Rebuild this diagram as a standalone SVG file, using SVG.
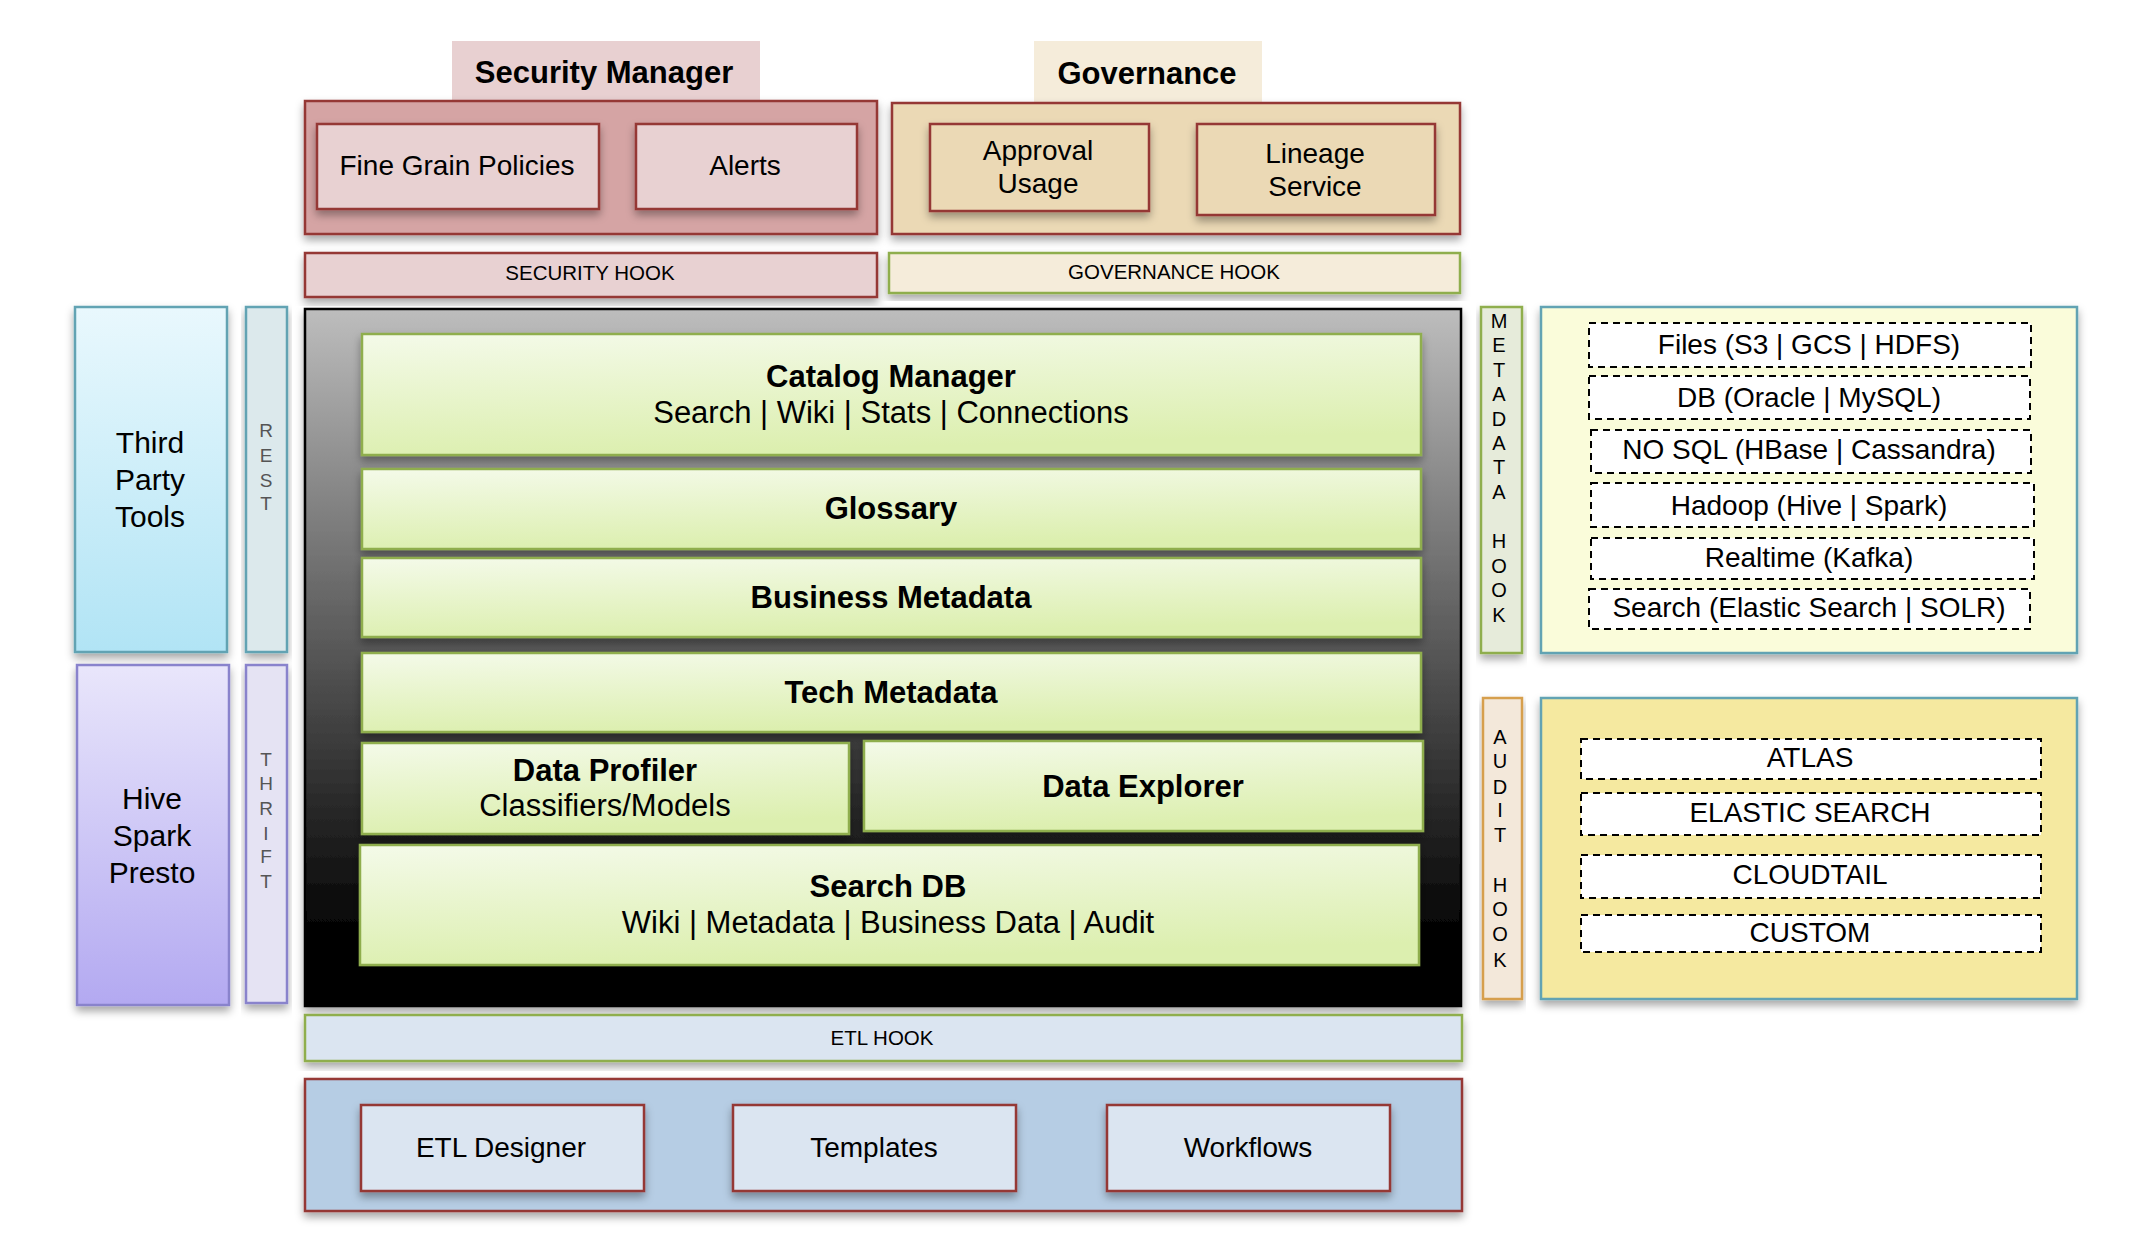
<svg xmlns="http://www.w3.org/2000/svg" width="2134" height="1252" viewBox="0 0 2134 1252">
<defs>
  <filter id="sh" x="-10%" y="-10%" width="120%" height="130%">
    <feDropShadow dx="0" dy="5" stdDeviation="4" flood-color="#000" flood-opacity="0.35"/>
  </filter>
  <linearGradient id="gMain" x1="0" y1="0" x2="0" y2="1">
    <stop offset="0" stop-color="#bdbdbd"/>
    <stop offset="0.88" stop-color="#060606"/>
    <stop offset="1" stop-color="#000"/>
  </linearGradient>
  <linearGradient id="gGreen" x1="0" y1="0" x2="0.25" y2="1">
    <stop offset="0" stop-color="#f4fae9"/>
    <stop offset="1" stop-color="#dcefaf"/>
  </linearGradient>
  <linearGradient id="gBlue" x1="0" y1="0" x2="0" y2="1">
    <stop offset="0" stop-color="#e9f8fd"/>
    <stop offset="1" stop-color="#b1e4f5"/>
  </linearGradient>
  <linearGradient id="gPurple" x1="0" y1="0" x2="0" y2="1">
    <stop offset="0" stop-color="#e9e6fb"/>
    <stop offset="1" stop-color="#b3a9f1"/>
  </linearGradient>
</defs>
<style>
  text { font-family: "Liberation Sans", Arial, sans-serif; fill: #000; text-anchor: middle; }
  .b { font-weight: bold; }
  .f30 { font-size: 30px; }
  .f31 { font-size: 31px; }
  .f27 { font-size: 28px; }
  .f20 { font-size: 20.5px; }
  .v { font-size: 20px; }
  .vg { font-size: 19px; fill: #555; }
  .red { stroke: #953735; stroke-width: 2.5; }
  .grn { stroke: #8fae4e; stroke-width: 2.5; }
  .teal { stroke: #62a3b3; stroke-width: 2.5; }
  .pur { stroke: #8983cc; stroke-width: 2.5; }
  .dash { fill: #fff; stroke: #000; stroke-width: 2; stroke-dasharray: 7 5; }
  .shd { filter: url(#sh); }
</style>
<rect width="2134" height="1252" fill="#fff"/>

<g id="security-manager">
  <rect x="452" y="41" width="308" height="61" fill="#e8d0d1"/>
  <text class="b f31" x="604" y="83">Security Manager</text>
  <rect class="red shd" x="305" y="101" width="572" height="133" fill="#d5a4a4"/>
  <g id="fine-grain-policies">
    <rect class="red shd" x="317" y="124" width="282" height="85" fill="#e8d1d2"/>
    <text class="f27" x="457" y="175">Fine Grain Policies</text>
  </g>
  <g id="alerts">
    <rect class="red shd" x="636" y="124" width="221" height="85" fill="#e8d1d2"/>
    <text class="f27" x="745" y="175">Alerts</text>
  </g>
</g>

<g id="governance">
  <rect x="1034" y="41" width="228" height="61" fill="#f5ecda"/>
  <text class="b f31" x="1147" y="84">Governance</text>
  <rect class="red shd" x="892" y="103" width="568" height="131" fill="#ebd9b5"/>
  <g id="approval-usage">
    <rect class="red shd" x="930" y="124" width="219" height="87" fill="#ebd9b5"/>
    <text class="f27" x="1038" y="160">Approval</text>
    <text class="f27" x="1038" y="193">Usage</text>
  </g>
  <g id="lineage-service">
    <rect class="red shd" x="1197" y="124" width="238" height="91" fill="#ebd9b5"/>
    <text class="f27" x="1315" y="163">Lineage</text>
    <text class="f27" x="1315" y="196">Service</text>
  </g>
</g>

<g id="security-hook">
  <rect class="red shd" x="305" y="253" width="572" height="44" fill="#e8d1d2"/>
  <text class="f20" x="590" y="280">SECURITY HOOK</text>
</g>
<g id="governance-hook">
  <rect class="grn shd" x="889" y="253" width="571" height="40" fill="#f5ecda"/>
  <text class="f20" x="1174" y="279">GOVERNANCE HOOK</text>
</g>

<g id="third-party-tools">
  <rect class="teal shd" x="75" y="307" width="152" height="345" fill="url(#gBlue)"/>
  <text class="f30" x="150" y="453">Third</text>
  <text class="f30" x="150" y="490">Party</text>
  <text class="f30" x="150" y="527">Tools</text>
</g>
<g id="rest">
  <rect class="teal shd" x="246" y="307" width="41" height="345" fill="#dce9ec"/>
  <text class="vg" x="266" y="437">R</text>
  <text class="vg" x="266" y="462">E</text>
  <text class="vg" x="266" y="487">S</text>
  <text class="vg" x="266" y="510">T</text>
</g>
<g id="hive-spark-presto">
  <rect class="pur shd" x="77" y="665" width="152" height="340" fill="url(#gPurple)"/>
  <text class="f30" x="152" y="809">Hive</text>
  <text class="f30" x="152" y="846">Spark</text>
  <text class="f30" x="152" y="883">Presto</text>
</g>
<g id="thrift">
  <rect class="pur shd" x="246" y="665" width="41" height="338" fill="#e5e3f3"/>
  <text class="vg" x="266" y="766">T</text>
  <text class="vg" x="266" y="790">H</text>
  <text class="vg" x="266" y="815">R</text>
  <text class="vg" x="266" y="840">I</text>
  <text class="vg" x="266" y="863">F</text>
  <text class="vg" x="266" y="888">T</text>
</g>

<g id="core">
  <rect class="shd" x="305" y="309" width="1156" height="697" fill="url(#gMain)" stroke="#000" stroke-width="2.5"/>
  <g id="catalog-manager">
    <rect class="grn shd" x="362" y="334" width="1059" height="121" fill="url(#gGreen)"/>
    <text class="b f31" x="891" y="387">Catalog Manager</text>
    <text class="f31" x="891" y="423">Search | Wiki | Stats | Connections</text>
  </g>
  <g id="glossary">
    <rect class="grn shd" x="362" y="469" width="1059" height="80" fill="url(#gGreen)"/>
    <text class="b f31" x="891" y="519">Glossary</text>
  </g>
  <g id="business-metadata">
    <rect class="grn shd" x="362" y="558" width="1059" height="79" fill="url(#gGreen)"/>
    <text class="b f31" x="891" y="608">Business Metadata</text>
  </g>
  <g id="tech-metadata">
    <rect class="grn shd" x="362" y="653" width="1059" height="79" fill="url(#gGreen)"/>
    <text class="b f31" x="891" y="703">Tech Metadata</text>
  </g>
  <g id="data-profiler">
    <rect class="grn shd" x="362" y="743" width="487" height="91" fill="url(#gGreen)"/>
    <text class="b f31" x="605" y="781">Data Profiler</text>
    <text class="f31" x="605" y="816">Classifiers/Models</text>
  </g>
  <g id="data-explorer">
    <rect class="grn shd" x="864" y="741" width="559" height="90" fill="url(#gGreen)"/>
    <text class="b f31" x="1143" y="797">Data Explorer</text>
  </g>
  <g id="search-db">
    <rect class="grn shd" x="360" y="845" width="1059" height="120" fill="url(#gGreen)"/>
    <text class="b f31" x="888" y="897">Search DB</text>
    <text class="f31" x="888" y="933">Wiki | Metadata | Business Data | Audit</text>
  </g>
</g>

<g id="metadata-hook">
  <rect class="grn shd" x="1481" y="307" width="41" height="346" fill="#e6ebda"/>
  <text class="v" x="1499" y="328">M</text>
  <text class="v" x="1499" y="352">E</text>
  <text class="v" x="1499" y="377">T</text>
  <text class="v" x="1499" y="401">A</text>
  <text class="v" x="1499" y="426">D</text>
  <text class="v" x="1499" y="450">A</text>
  <text class="v" x="1499" y="474">T</text>
  <text class="v" x="1499" y="499">A</text>
  <text class="v" x="1499" y="548">H</text>
  <text class="v" x="1499" y="573">O</text>
  <text class="v" x="1499" y="597">O</text>
  <text class="v" x="1499" y="622">K</text>
</g>
<g id="metadata-sources">
  <rect class="teal shd" x="1541" y="307" width="536" height="346" fill="#fafcda"/>
  <rect class="dash" x="1589" y="323" width="442" height="44"/>
  <text class="f27" x="1809" y="354">Files (S3 | GCS | HDFS)</text>
  <rect class="dash" x="1589" y="376" width="441" height="43"/>
  <text class="f27" x="1809" y="407">DB (Oracle | MySQL)</text>
  <rect class="dash" x="1591" y="430" width="440" height="43"/>
  <text class="f27" x="1809" y="459">NO SQL (HBase | Cassandra)</text>
  <rect class="dash" x="1591" y="483" width="443" height="44"/>
  <text class="f27" x="1809" y="515">Hadoop (Hive | Spark)</text>
  <rect class="dash" x="1591" y="538" width="443" height="41"/>
  <text class="f27" x="1809" y="567">Realtime (Kafka)</text>
  <rect class="dash" x="1589" y="589" width="441" height="40"/>
  <text class="f27" x="1809" y="617">Search (Elastic Search | SOLR)</text>
</g>

<g id="audit-hook">
  <rect class="shd" x="1483" y="698" width="39" height="301" fill="#f3e8da" stroke="#d69f4e" stroke-width="2.5"/>
  <text class="v" x="1500" y="744">A</text>
  <text class="v" x="1500" y="768">U</text>
  <text class="v" x="1500" y="794">D</text>
  <text class="v" x="1500" y="817">I</text>
  <text class="v" x="1500" y="842">T</text>
  <text class="v" x="1500" y="892">H</text>
  <text class="v" x="1500" y="916">O</text>
  <text class="v" x="1500" y="941">O</text>
  <text class="v" x="1500" y="967">K</text>
</g>
<g id="audit-targets">
  <rect class="teal shd" x="1541" y="698" width="536" height="301" fill="#f5e9a0"/>
  <rect class="dash" x="1581" y="739" width="460" height="40"/>
  <text class="f27" x="1810" y="767">ATLAS</text>
  <rect class="dash" x="1581" y="793" width="460" height="42"/>
  <text class="f27" x="1810" y="822">ELASTIC SEARCH</text>
  <rect class="dash" x="1581" y="855" width="460" height="43"/>
  <text class="f27" x="1810" y="884">CLOUDTAIL</text>
  <rect class="dash" x="1581" y="915" width="460" height="37"/>
  <text class="f27" x="1810" y="942">CUSTOM</text>
</g>

<g id="etl-hook">
  <rect class="grn shd" x="305" y="1015" width="1157" height="46" fill="#dbe5f1"/>
  <text class="f20" x="882" y="1045">ETL HOOK</text>
</g>
<g id="etl">
  <rect class="red shd" x="305" y="1079" width="1157" height="132" fill="#b6cde4"/>
  <g id="etl-designer">
    <rect class="red shd" x="361" y="1105" width="283" height="86" fill="#dbe5f1"/>
    <text class="f27" x="501" y="1157">ETL Designer</text>
  </g>
  <g id="templates">
    <rect class="red shd" x="733" y="1105" width="283" height="86" fill="#dbe5f1"/>
    <text class="f27" x="874" y="1157">Templates</text>
  </g>
  <g id="workflows">
    <rect class="red shd" x="1107" y="1105" width="283" height="86" fill="#dbe5f1"/>
    <text class="f27" x="1248" y="1157">Workflows</text>
  </g>
</g>

<g id="connectors"></g>
</svg>
